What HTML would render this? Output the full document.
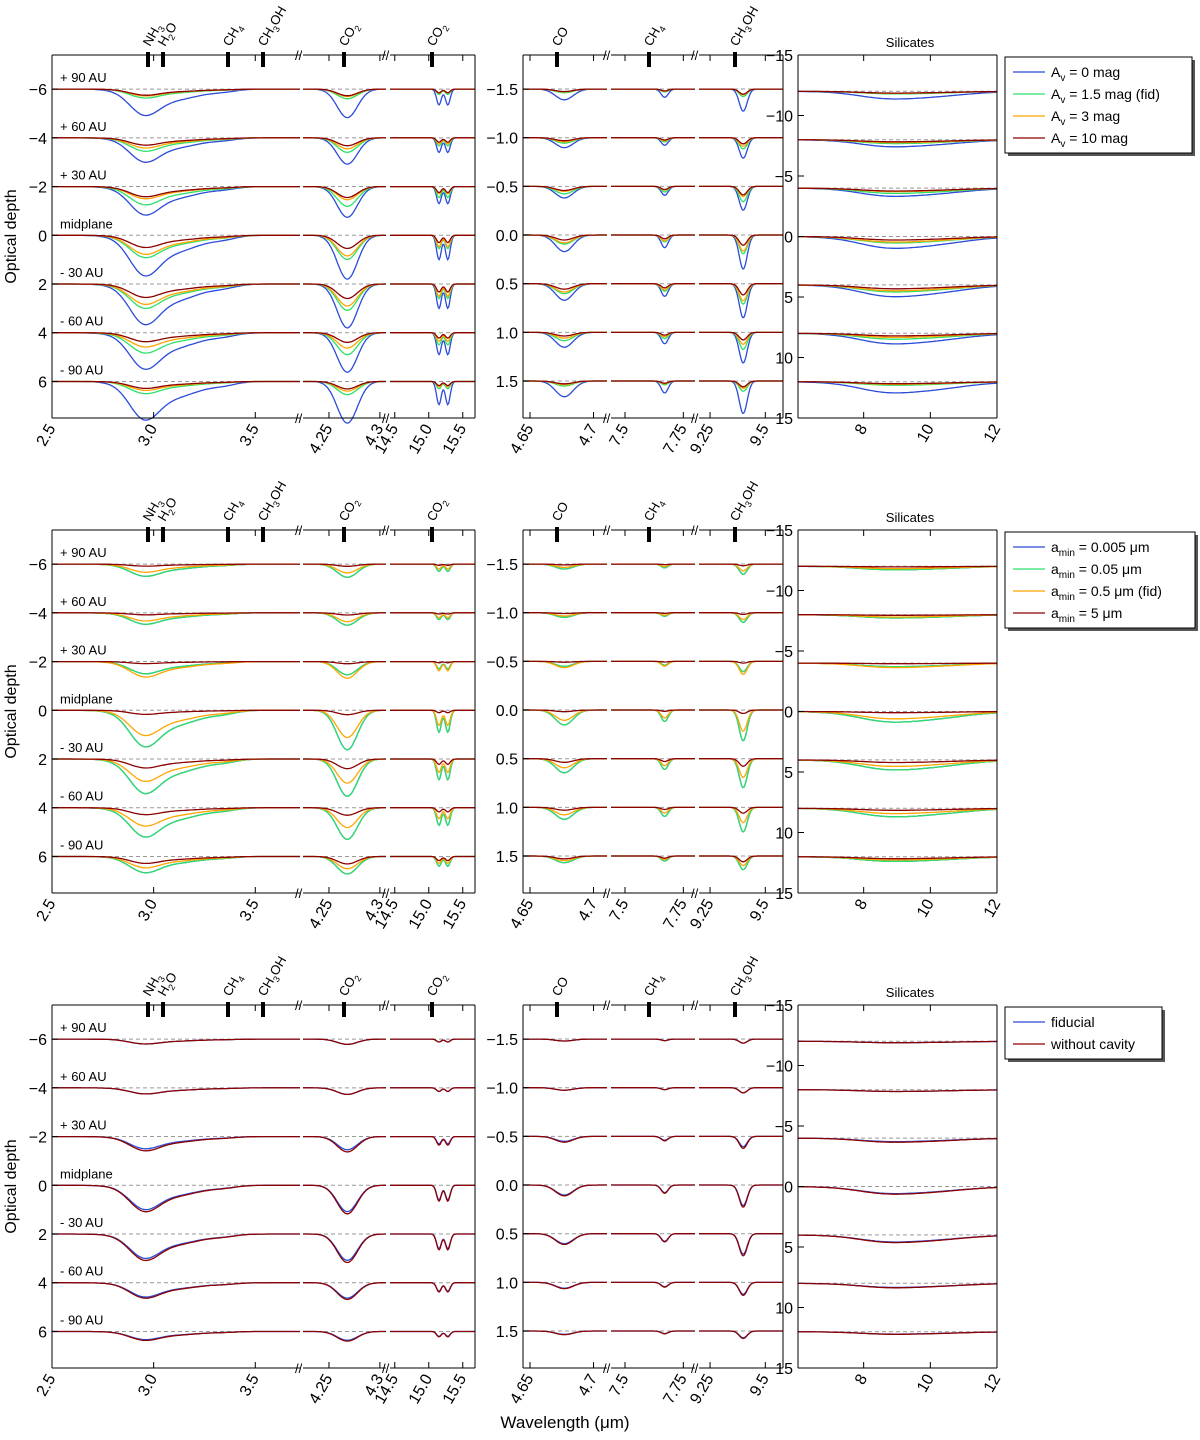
<!DOCTYPE html>
<html><head><meta charset="utf-8"><style>
body{margin:0;background:#fff}
svg text{font-family:"Liberation Sans","DejaVu Sans",sans-serif;fill:#000}
</style></head><body>
<svg id="fig" width="1200" height="1435" viewBox="0 0 1200 1435" xmlns="http://www.w3.org/2000/svg"></svg>
<script>
// ---------- data ----------
const offsetLabels=["+ 90 AU","+ 60 AU","+ 30 AU","midplane","- 30 AU","- 60 AU","- 90 AU"];
const leftBaselines=[-6,-4,-2,0,2,4,6];
const midBaselines=[-1.5,-1,-0.5,0,0.5,1,1.5];
const rightBaselines=[-12,-8,-4,0,4,8,12];
const row1Labels=["A_v = 0 mag","A_v = 1.5 mag (fid)","A_v = 3 mag","A_v = 10 mag"];
const row1Colors=["#2b4bd8","#2ee06a","#ffa500","#8b0000"];
const row1Amp=[[0.65,0.6,0.7,1.0,1.0,0.9,0.95],[0.22,0.33,0.45,0.55,0.6,0.5,0.3],[0.17,0.25,0.3,0.47,0.5,0.35,0.22],[0.15,0.18,0.25,0.3,0.33,0.22,0.17]];
const row2Labels=["a_min = 0.005 μm","a_min = 0.05 μm","a_min = 0.5 μm (fid)","a_min = 5 μm"];
const row2Colors=["#2b4bd8","#2ee06a","#ffa500","#8b0000"];
const row2Amp=[[0.3,0.28,0.3,0.9,0.85,0.72,0.4],[0.3,0.28,0.3,0.9,0.85,0.72,0.4],[0.2,0.2,0.38,0.62,0.55,0.45,0.28],[0.05,0.05,0.05,0.1,0.22,0.17,0.17]];
const row3Labels=["fiducial","without cavity"];
const row3Colors=["#2b4bd8","#8b0000"];
const row3Amp=[[0.12,0.15,0.3,0.6,0.6,0.35,0.2],[0.12,0.15,0.35,0.65,0.65,0.38,0.22]];
// feature centres (μm), widths, depth (panel units at amp=1)
const featL1=[[2.95,0.07,1.2],[3.08,0.14,0.7],[3.35,0.06,0.1]];
const featL2=[[4.268,0.01,1.8]];
const featL3=[[15.15,0.035,1.0],[15.28,0.035,1.0]];
const featM1=[[4.677,0.007,0.17]];
const featM2=[[7.67,0.015,0.13]];
const featM3=[[9.4,0.018,0.35]];
const featR=[[9.5,1.3,0.8],[8.5,0.7,0.3]];
// ---------- layout ----------
const svg=document.getElementById('fig');
const NS="http://www.w3.org/2000/svg";
function el(tag,attrs,parent){const e=document.createElementNS(NS,tag);for(const k in attrs)e.setAttribute(k,attrs[k]);(parent||svg).appendChild(e);return e;}
const rowTops=[55,530,1005];
const H=363;
const subs=[
 {x0:52,x1:300,d:[2.5,3.72],feat:featL1,yr:[-7.4,7.5],base:leftBaselines,ticks:[2.5,3.0,3.5],tl:["2.5","3.0","3.5"],grp:0,left:true},
 {x0:303,x1:386,d:[4.2245,4.306],feat:featL2,yr:[-7.4,7.5],base:leftBaselines,ticks:[4.25,4.3],tl:["4.25","4.3"],grp:0},
 {x0:390,x1:475,d:[14.43,15.68],feat:featL3,yr:[-7.4,7.5],base:leftBaselines,ticks:[14.5,15.0,15.5],tl:["14.5","15.0","15.5"],grp:0,right:true},
 {x0:523,x1:607,d:[4.6445,4.7106],feat:featM1,yr:[-1.85,1.88],base:midBaselines,ticks:[4.65,4.7],tl:["4.65","4.7"],grp:1,left:true},
 {x0:611,x1:695,d:[7.44,7.8],feat:featM2,yr:[-1.85,1.88],base:midBaselines,ticks:[7.5,7.75],tl:["7.5","7.75"],grp:1},
 {x0:699,x1:783,d:[9.2,9.58],feat:featM3,yr:[-1.85,1.88],base:midBaselines,ticks:[9.25,9.5],tl:["9.25","9.5"],grp:1,right:true},
 {x0:798,x1:997,d:[6.03,12],feat:featR,yr:[-15,15],base:rightBaselines,ticks:[8,10,12],tl:["8","10","12"],grp:2,left:true,right:true}
];
const yTicks=[[[-6,"−6"],[-4,"−4"],[-2,"−2"],[0,"0"],[2,"2"],[4,"4"],[6,"6"]],[[-1.5,"−1.5"],[-1,"−1.0"],[-0.5,"−0.5"],[0,"0.0"],[0.5,"0.5"],[1,"1.0"],[1.5,"1.5"]],[[-15,"−15"],[-10,"−10"],[-5,"−5"],[0,"0"],[5,"5"],[10,"10"],[15,"15"]]];
const markers=[[148,"NH","3",""],[163,"H","2","O"],[228,"CH","4",""],[263,"CH","3","OH"],[344,"CO","2",""],[432,"CO","2",""],[557,"CO","",""],[649,"CH","4",""],[735,"CH","3","OH"]];
const rows=[{labels:row1Labels,colors:row1Colors,amp:row1Amp,leg:[1005,1192]},{labels:row2Labels,colors:row2Colors,amp:row2Amp,leg:[1005,1195]},{labels:row3Labels,colors:row3Colors,amp:row3Amp,leg:[1005,1162]}];

function prof(feat,x){let s=0;for(const f of feat)s+=f[2]*Math.exp(-0.5*((x-f[0])/f[1])**2);return s;}

rows.forEach((row,r)=>{
 const top=rowTops[r],bot=top+H;
 const g=el('g',{});
 
 
 subs.forEach((sp,si)=>{
  const xs=v=>sp.x0+(v-sp.d[0])/(sp.d[1]-sp.d[0])*(sp.x1-sp.x0);
  const ys=v=>top+(v-sp.yr[0])/(sp.yr[1]-sp.yr[0])*H;
  sp.base.forEach(b=>{el('line',{x1:sp.x0,x2:sp.x1,y1:ys(b),y2:ys(b),stroke:'#999','stroke-dasharray':'4,3','stroke-width':1},g);});
  row.amp.forEach((a,s)=>{
   sp.base.forEach((b,k)=>{
    let pts=[];
    for(let i=0;i<=90;i++){const x=sp.d[0]+(sp.d[1]-sp.d[0])*i/90;const v=b+a[k]*prof(sp.feat,x);pts.push(xs(x).toFixed(1)+','+ys(v).toFixed(1));}
    const pl=el('polyline',{points:pts.join(' '),fill:'none',stroke:row.colors[s],'stroke-width':1.3},g);
    
    
   });
  });
  el('line',{x1:sp.x0,x2:sp.x1,y1:top,y2:top,stroke:'#000'},g);
  el('line',{x1:sp.x0,x2:sp.x1,y1:bot,y2:bot,stroke:'#000'},g);
  if(sp.left)el('line',{x1:sp.x0,x2:sp.x0,y1:top,y2:bot,stroke:'#000'},g);
  else{[top,bot].forEach(y=>{el('text',{x:sp.x0-8,y:y+5,'font-size':13},g).textContent='//';});}
  if(sp.right)el('line',{x1:sp.x1,x2:sp.x1,y1:top,y2:bot,stroke:'#000'},g);
  sp.ticks.forEach((t,i)=>{const x=xs(t);el('line',{x1:x,x2:x,y1:bot,y2:bot-6,stroke:'#000'},g);el('line',{x1:x,x2:x,y1:top,y2:top+6,stroke:'#000'},g);
   const tx=el('text',{x:x+4,y:bot+10,'font-size':16,'text-anchor':'end',transform:`rotate(-60 ${x+4} ${bot+10})`},g);tx.textContent=sp.tl[i];
   });
  if(sp.left){
   const yt=yTicks[sp.grp];
   yt.forEach(([v,l])=>{const y=ys(v);el('line',{x1:sp.x0,x2:sp.x0+6,y1:y,y2:y,stroke:'#000'},g);
    const tx=el('text',{x:sp.x0-5,y:y+6,'font-size':16,'text-anchor':'end'},g);tx.textContent=l;
    });
  }
  if(si===0){
   sp.base.forEach((b,k)=>{const tx=el('text',{x:60,y:ys(b)-7,'font-size':13},g);tx.textContent=offsetLabels[k];
    });
  }
 });
 markers.forEach(m=>{el('rect',{x:m[0]-2,y:top-3,width:4,height:15,fill:'#000'},g);
  const t=el('text',{x:m[0]+2,y:top-8,'font-size':13,transform:`rotate(-60 ${m[0]+2} ${top-8})`},g);
  
  t.appendChild(document.createTextNode(m[1]));
  if(m[2]){const s=el('tspan',{'font-size':9,dy:4},t);s.textContent=m[2];}
  if(m[3]){const s=el('tspan',{dy:-4},t);s.textContent=m[3];}
 });
 const sl=el('text',{x:910,y:top-8,'font-size':13,'text-anchor':'middle'},g);sl.textContent='Silicates';
 
 const yl=el('text',{x:16,y:top+H/2,'font-size':16,'text-anchor':'middle',transform:`rotate(-90 16 ${top+H/2})`},g);yl.textContent='Optical depth';
 
 const lg=el('g',{},g);
 
 const lh=row.labels.length*22+8;
 el('rect',{x:row.leg[0]+3,y:top+5,width:row.leg[1]-row.leg[0],height:lh,fill:'#555'},lg);
 el('rect',{x:row.leg[0],y:top+2,width:row.leg[1]-row.leg[0],height:lh,fill:'#fff',stroke:'#000'},lg);
 row.labels.forEach((l,i)=>{const y=top+17+i*22;
  el('line',{x1:row.leg[0]+8,x2:row.leg[0]+40,y1:y,y2:y,stroke:row.colors[i],'stroke-width':1.3},lg);
  const t=el('text',{x:row.leg[0]+46,y:y+5,'font-size':14},lg);
  
  if(r===0){const p=l.split(' = ');t.appendChild(document.createTextNode('A'));const s=el('tspan',{'font-size':10,dy:4},t);s.textContent='v';const q=el('tspan',{dy:-4},t);q.textContent=' = '+p[1];}
  else if(r===1){const p=l.split(' = ');t.appendChild(document.createTextNode('a'));const s=el('tspan',{'font-size':10,dy:4},t);s.textContent='min';const q=el('tspan',{dy:-4},t);q.textContent=' = '+p[1];}
  else t.textContent=l;
 });
});
const xl=el('text',{x:565,y:1428,'font-size':17,'text-anchor':'middle'});xl.textContent='Wavelength (μm)';

</script>
</body></html>
